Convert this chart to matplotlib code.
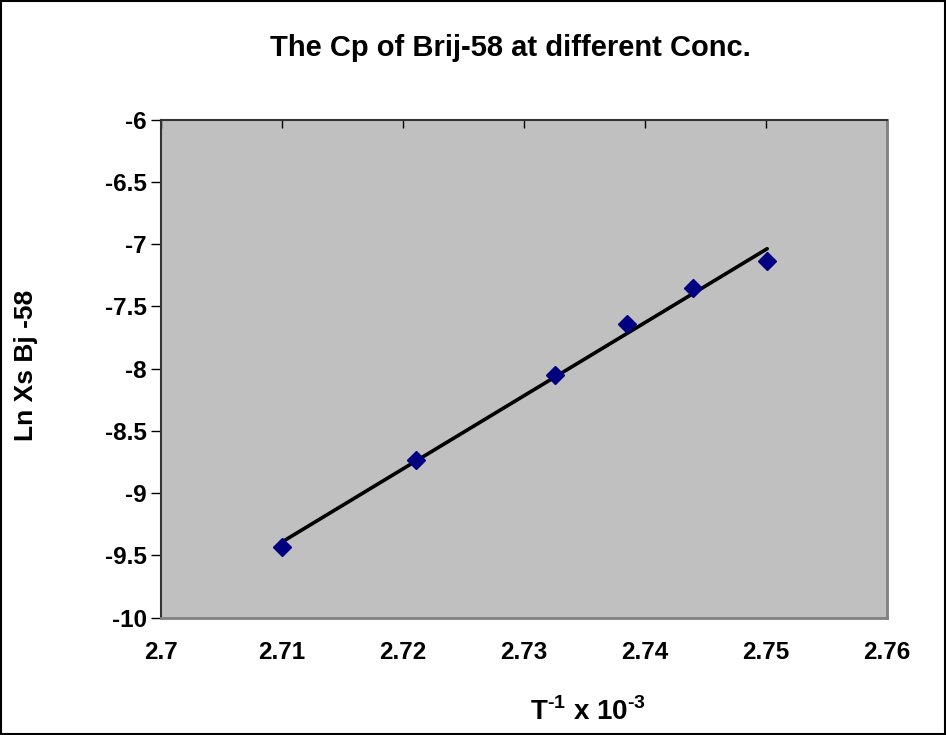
import numpy as np
import matplotlib
matplotlib.use("Agg")
import matplotlib.pyplot as plt
from matplotlib.patches import Rectangle

plt.rcParams['font.family'] = ['Liberation Sans', 'DejaVu Sans']
plt.rcParams['font.weight'] = 'bold'
plt.rcParams['mathtext.fontset'] = 'custom'
plt.rcParams['mathtext.rm'] = 'Liberation Sans:bold'
plt.rcParams['mathtext.bf'] = 'Liberation Sans:bold'

# data
inv_t = [2.7100, 2.7211, 2.7326, 2.7385, 2.7440, 2.7501]
ln_xs = [-9.43, -8.733, -8.051, -7.643, -7.354, -7.133]
x_ticks = [2.70, 2.71, 2.72, 2.73, 2.74, 2.75, 2.76]
y_ticks = [-10, -9.5, -9, -8.5, -8, -7.5, -7, -6.5, -6]

fig = plt.figure(figsize=(9.46, 7.35), dpi=100)
ax = fig.add_axes([0.1702, 0.1596, 0.7674, 0.6775])
ax.set_facecolor("#c0c0c0")

# linear trendline
coef = np.polyfit(inv_t, ln_xs, 1)
xs = np.array([min(inv_t), max(inv_t)])
ax.plot(xs, np.polyval(coef, xs), color="black", lw=2.6, solid_capstyle="round", zorder=2)
ax.plot(inv_t, ln_xs, linestyle="none", marker="D", ms=9.5, color="#000080", zorder=3)

ax.set_xlim(2.70, 2.76)
ax.set_ylim(-10, -6)
ax.set_xticks(x_ticks)
ax.set_xticklabels([f"{v:g}" for v in x_ticks])
ax.set_yticks(y_ticks)
ax.set_yticklabels([f"{v:g}" for v in y_ticks])

# x axis sits at the top (crosses at -6), labels stay low
ax.tick_params(axis="x", top=True, bottom=False, labeltop=False, labelbottom=True,
               direction="in", length=6, width=1, pad=17, labelsize=17.5)
ax.tick_params(axis="y", direction="out", length=7, width=1, pad=3, labelsize=17.5)
for lab in ax.get_xticklabels() + ax.get_yticklabels():
    lab.set_fontweight("bold")

ax.spines["top"].set_color("#333333")
ax.spines["left"].set_color("#333333")
ax.spines["top"].set_linewidth(1.5)
ax.spines["left"].set_linewidth(1.5)
ax.spines["bottom"].set_color("#808080")
ax.spines["right"].set_color("#808080")
ax.spines["bottom"].set_linewidth(2)
ax.spines["right"].set_linewidth(2)

fig.text(0.54, 0.935, "The Cp of Brij-58 at different Conc.", ha="center", va="center",
         fontsize=21, fontweight="bold")
fig.text(0.622, 0.031, r"T$^{\text{-1}}$ x 10$^{\text{-3}}$", ha="center", va="center",
         fontsize=20, fontweight="bold")
fig.text(0.027, 0.503, "Ln Xs Bj -58", ha="center", va="center", rotation=90,
         fontsize=19, fontweight="bold")

# outer chart frame
fig.patches.append(Rectangle((0.001, 0.001), 0.998, 0.997, transform=fig.transFigure,
                             fill=False, edgecolor="black", lw=1.5))

fig.savefig("out.png", dpi=100)
